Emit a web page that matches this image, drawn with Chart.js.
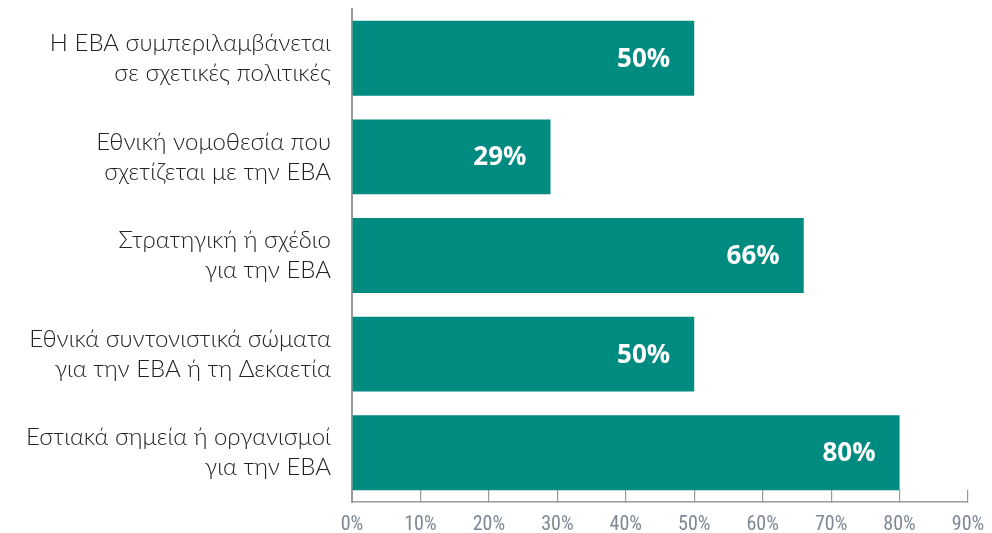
<!DOCTYPE html>
<html>
<head>
<meta charset="utf-8">
<script src="https://cdn.jsdelivr.net/npm/chart.js@4/dist/chart.umd.min.js"></script>
<style>
	html, body { margin: 0; padding: 0; background: #fff; }
	#wrap { width: 992px; height: 533px; }
</style>
</head>
<body>
<div id="wrap"><canvas id="ebaChart"></canvas></div>
<script>
(function () {
	const categories = [
		['Η ΕΒΑ συμπεριλαμβάνεται', 'σε σχετικές πολιτικές'],
		['Εθνική νομοθεσία που', 'σχετίζεται με την ΕΒΑ'],
		['Στρατηγική ή σχέδιο', 'για την ΕΒΑ'],
		['Εθνικά συντονιστικά σώματα', 'για την ΕΒΑ ή τη Δεκαετία'],
		['Εστιακά σημεία ή οργανισμοί', 'για την ΕΒΑ'],
	];
	const values = [50, 29, 66, 50, 80];
	const xTicks = [0, 10, 20, 30, 40, 50, 60, 70, 80, 90];

	const barColor = '#008b80';
	const axisColor = '#9a9a9a';

	// white percentage labels drawn near the end of each bar
	const valueLabels = {
		id: 'valueLabels',
		afterDatasetsDraw(chart) {
			const ctx = chart.ctx;
			const meta = chart.getDatasetMeta(0);
			ctx.save();
			ctx.fillStyle = '#ffffff';
			ctx.font = 'bold 26px "Open Sans", sans-serif';
			ctx.textAlign = 'right';
			ctx.textBaseline = 'middle';
			meta.data.forEach((bar, i) => {
				ctx.fillText(values[i] + '%', bar.x - 24, bar.y + 1);
			});
			ctx.restore();
		},
	};

	// drop the extra padding the scales ask for around their labels
	function noPad(scale) {
		scale.paddingTop = 0;
		scale.paddingBottom = 0;
		scale.paddingLeft = 0;
		scale.paddingRight = 0;
	}

	const config = {
		type: 'bar',
		data: {
			labels: categories,
			datasets: [
				{
					data: values,
					backgroundColor: barColor,
					borderWidth: 0,
					barPercentage: 0.76,
					categoryPercentage: 1,
				},
			],
		},
		options: {
			indexAxis: 'y',
			responsive: true,
			maintainAspectRatio: false,
			animation: false,
			layout: {
				padding: { top: 9, right: 24, left: 0, bottom: 0 },
			},
			plugins: {
				legend: { display: false },
				tooltip: { enabled: false },
			},
			scales: {
				x: {
					min: 0,
					max: 90,
					afterBuildTicks(scale) {
						scale.ticks = xTicks.map(v => ({ value: v }));
					},
					afterFit(scale) {
						scale.height = 31;
						noPad(scale);
					},
					border: { color: axisColor, width: 1.5 },
					grid: {
						drawOnChartArea: false,
						drawTicks: true,
						tickLength: -12,
						color: axisColor,
						lineWidth: 1.2,
					},
					ticks: {
						padding: 23,
						color: '#7d8894',
						font: { family: '"Liberation Sans Narrow", "Roboto Condensed", Roboto, sans-serif', size: 20 },
						callback: v => v + '%',
						maxRotation: 0,
					},
				},
				y: {
					afterFit(scale) {
						scale.width = 352;
						noPad(scale);
					},
					border: { color: axisColor, width: 2 },
					grid: { display: false, drawTicks: false },
					ticks: {
						padding: 21,
						color: '#222222',
						font: { family: 'Lato, sans-serif', size: 24, weight: 300, lineHeight: 1.25 },
					},
				},
			},
		},
		plugins: [valueLabels],
	};
	new Chart(document.querySelector('#ebaChart'), config);
})();
</script>
</body>
</html>
